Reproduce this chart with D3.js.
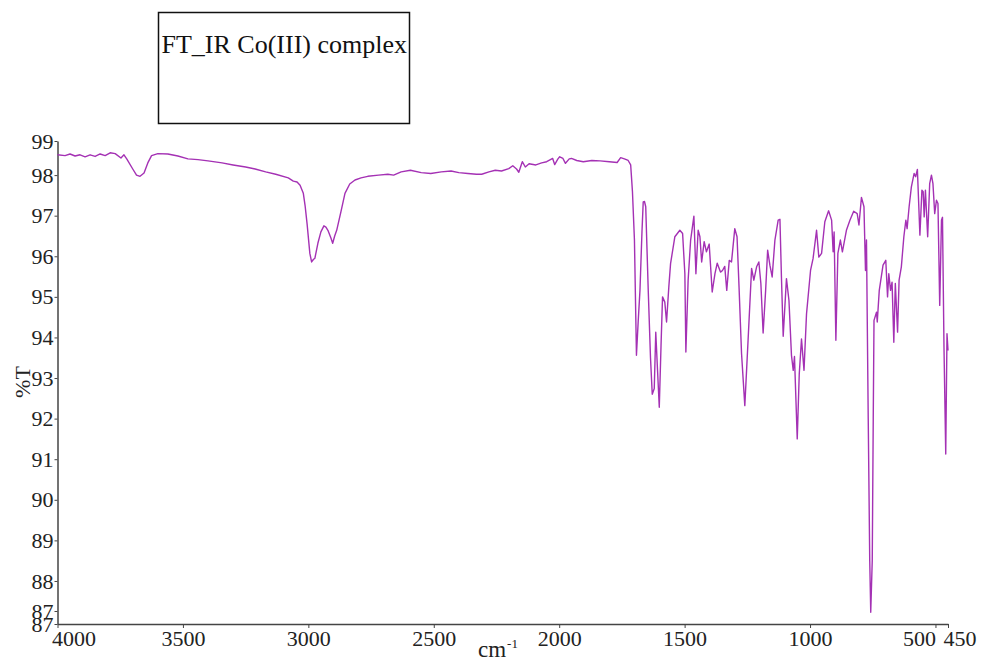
<!DOCTYPE html>
<html>
<head>
<meta charset="utf-8">
<script src="https://cdn.jsdelivr.net/npm/d3@7"></script>
<style>
  body { margin: 0; background: #fff; }
  svg { display: block; font-family: "Liberation Serif", "DejaVu Serif", serif; }
</style>
</head>
<body>
<div id="chart"></div>
<script>
// wavenumber (cm-1) and %T
const wavenumbers = [
  4000, 3970, 3950, 3930, 3910, 3890, 3870, 3850, 3830, 3810, 3790, 3770, 3747, 3735,
  3724, 3700, 3685, 3671, 3655, 3640, 3625, 3600, 3560, 3520, 3480, 3440, 3400, 3344,
  3300, 3250, 3212, 3170, 3130, 3080, 3060, 3045, 3033, 3020, 3013, 3005, 2994, 2987,
  2980, 2974, 2962, 2950, 2938, 2930, 2922, 2910, 2903, 2895, 2887, 2870, 2854, 2835,
  2814, 2790, 2763, 2720, 2683, 2660, 2630, 2593, 2550, 2512, 2470, 2431, 2400, 2364,
  2330, 2309, 2280, 2255, 2230, 2201, 2185, 2170, 2161, 2147, 2135, 2120, 2093, 2070,
  2050, 2035, 2026, 2018, 2005, 1998, 1985, 1975, 1960, 1951, 1930, 1904, 1870, 1837,
  1800, 1769, 1755, 1740, 1725, 1715, 1708, 1700, 1692, 1685, 1678, 1670, 1665, 1660,
  1655, 1645, 1636, 1629, 1621, 1615, 1608, 1601, 1594, 1588, 1579, 1572, 1563, 1556,
  1539, 1519, 1508, 1499, 1495, 1486, 1476, 1463, 1455, 1446, 1439, 1432, 1422, 1413,
  1402, 1390, 1379, 1370, 1357, 1349, 1340, 1332, 1322, 1313, 1300, 1291, 1283, 1273,
  1260, 1247, 1233, 1224, 1213, 1204, 1196, 1187, 1177, 1169, 1160, 1151, 1140, 1127,
  1120, 1114, 1107, 1094, 1084, 1074, 1067, 1062, 1051, 1043, 1034, 1024, 1014, 998,
  988, 974, 965, 954, 941, 926, 914, 908, 904, 897, 889, 879, 871, 855,
  841, 826, 812, 805, 795, 785, 779, 775, 768, 762, 758, 752, 748, 745,
  735, 732, 724, 709, 698, 691, 686, 679, 673, 666, 660, 651, 645, 636,
  626, 618, 613, 605, 596, 585, 579, 572, 562, 554, 549, 545, 540, 531,
  523, 516, 510, 503, 496, 490, 483, 476, 472, 466, 459, 454, 450
];
const transmittance = [
  98.50, 98.48, 98.52, 98.47, 98.50, 98.45, 98.50, 98.46, 98.52, 98.48, 98.55, 98.53, 98.42, 98.50,
  98.40, 98.15, 98.00, 97.97, 98.05, 98.30, 98.48, 98.53, 98.52, 98.47, 98.40, 98.38, 98.35, 98.30,
  98.25, 98.20, 98.15, 98.08, 98.02, 97.93, 97.85, 97.83, 97.75, 97.55, 97.25, 96.80, 96.07, 95.86,
  95.92, 95.95, 96.32, 96.60, 96.75, 96.72, 96.64, 96.45, 96.32, 96.50, 96.64, 97.10, 97.55, 97.78,
  97.88, 97.93, 97.97, 98.00, 98.02, 98.00, 98.08, 98.12, 98.06, 98.04, 98.08, 98.10, 98.06, 98.04,
  98.02, 98.02, 98.08, 98.12, 98.10, 98.16, 98.23, 98.15, 98.07, 98.33, 98.20, 98.28, 98.25, 98.30,
  98.33, 98.38, 98.41, 98.26, 98.40, 98.45, 98.41, 98.29, 98.40, 98.41, 98.36, 98.33, 98.36, 98.35,
  98.33, 98.31, 98.43, 98.40, 98.36, 98.25, 97.60, 96.40, 93.56, 94.40, 95.16, 96.60, 97.34, 97.35,
  97.22, 95.16, 93.50, 92.60, 92.74, 94.13, 93.20, 92.28, 93.80, 95.00, 94.87, 94.38, 95.24, 95.82,
  96.48, 96.64, 96.56, 95.57, 93.64, 95.41, 96.40, 96.99, 95.57, 96.64, 96.48, 95.86, 96.36, 96.11,
  96.30, 95.12, 95.57, 95.83, 95.61, 95.65, 95.75, 95.16, 95.90, 95.86, 96.68, 96.48, 95.24, 93.60,
  92.32, 93.93, 95.70, 95.41, 95.74, 95.86, 95.33, 94.11, 95.16, 96.15, 95.78, 95.49, 96.40, 96.89,
  96.91, 95.49, 94.03, 95.45, 94.91, 93.56, 93.19, 93.53, 91.50, 93.10, 93.96, 93.19, 94.58, 95.65,
  95.94, 96.64, 95.98, 96.07, 96.85, 97.12, 96.89, 96.11, 96.60, 93.93, 96.07, 96.40, 96.11, 96.64,
  96.89, 97.11, 97.05, 96.77, 97.45, 97.22, 95.65, 96.40, 92.00, 88.50, 87.23, 88.50, 92.00, 94.42,
  94.62, 94.38, 95.16, 95.78, 95.90, 95.00, 95.57, 95.16, 95.36, 93.88, 95.33, 94.13, 95.41, 95.74,
  96.48, 96.89, 96.68, 97.22, 97.71, 98.04, 97.96, 98.14, 96.52, 97.63, 97.59, 96.97, 97.63, 96.48,
  97.79, 98.00, 97.79, 97.05, 97.38, 97.30, 94.79, 96.89, 96.96, 93.76, 91.13, 94.09, 93.68
];
const xTicks = [4000, 3500, 3000, 2500, 2000, 1500, 1000, 500, 450];
// axis ends are labelled with their rounded values, like the original
const yTicks = [98.84, 98, 97, 96, 95, 94, 93, 92, 91, 90, 89, 88, 87.26, 86.94];
const title = "FT_IR Co(III) complex";

const width = 982, height = 661;
const margin = { left: 57.5, right: 948, top: 141, bottom: 624 };

const svg = d3.select("#chart").append("svg")
  .attr("width", width)
  .attr("height", height);

const x = d3.scaleLinear().domain([4000, 450]).range([margin.left, margin.right]);
const y = d3.scaleLinear().domain([86.94, 98.84]).range([margin.bottom, margin.top]);

// title box
svg.append("rect")
  .attr("x", 158.5).attr("y", 12.5)
  .attr("width", 251).attr("height", 111)
  .attr("fill", "none").attr("stroke", "#111").attr("stroke-width", 1.5);
svg.append("text")
  .attr("x", 161.5).attr("y", 53)
  .style("font-size", "26px").attr("fill", "#111")
  .text(title);

// y axis
const yAxis = svg.append("g")
  .attr("transform", `translate(${margin.left},0)`)
  .call(d3.axisLeft(y).tickValues(yTicks).tickFormat(d3.format(".0f"))
    .tickSize(3).tickPadding(1).tickSizeOuter(0));

// x axis
const xAxis = svg.append("g")
  .attr("transform", `translate(0,${margin.bottom})`)
  .call(d3.axisBottom(x).tickValues(xTicks).tickFormat(d3.format("d"))
    .tickSize(4).tickPadding(2).tickSizeOuter(0));

xAxis.selectAll(".tick text")
  .attr("text-anchor", (d) => d === 4000 ? "start" : d === 500 ? "end" : d === 450 ? "start" : "middle")
  .attr("dx", (d) => d === 4000 ? -6 : d === 450 ? -5 : 0);

[yAxis, xAxis].forEach((g) => {
  g.selectAll("text").style("font-size", "22px").attr("fill", "#222")
    .style("font-family", "'Liberation Serif', serif");
  g.selectAll("line").attr("stroke", "#444");
  g.select(".domain").attr("stroke", "#444").attr("stroke-width", 1.5);
});

// axis titles
svg.append("text")
  .attr("transform", "translate(30,382) rotate(-90)")
  .attr("text-anchor", "middle")
  .style("font-size", "22px").attr("fill", "#222")
  .text("%T");

const xt = svg.append("text")
  .attr("x", 478).attr("y", 657)
  .style("font-size", "23px").attr("fill", "#222");
xt.append("tspan").text("cm");
xt.append("tspan").attr("dx", 1).attr("dy", -9).style("font-size", "13px").text("-1");

// spectrum
const points = wavenumbers.map((w, i) => [w, transmittance[i]]);
const line = d3.line().x((d) => x(d[0])).y((d) => y(d[1]));

svg.append("path")
  .datum(points)
  .attr("d", line)
  .attr("fill", "none")
  .attr("stroke", "#a431b4")
  .attr("stroke-width", 1.4)
  .attr("stroke-linejoin", "round");
</script>
</body>
</html>
